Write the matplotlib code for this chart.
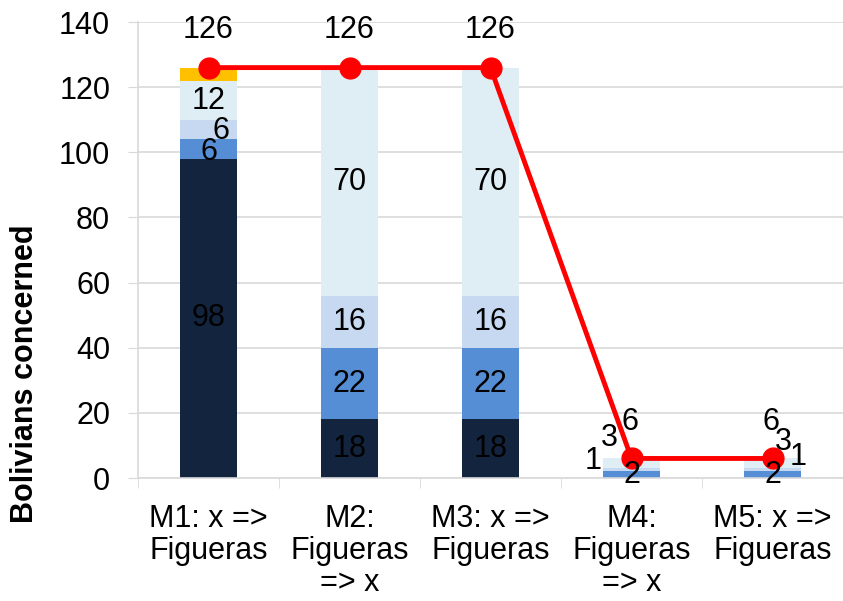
import matplotlib
matplotlib.use("Agg")
import matplotlib.pyplot as plt
import numpy as np

plt.rcParams['font.family'] = ['Liberation Sans', 'DejaVu Sans']

categories = ["M1: x =>\nFigueras", "M2:\nFigueras\n=> x", "M3: x =>\nFigueras",
              "M4:\nFigueras\n=> x", "M5: x =>\nFigueras"]
seg1 = [98, 18, 18, 0, 0]
seg2 = [6, 22, 22, 2, 2]
seg3 = [6, 16, 16, 1, 1]
seg4 = [12, 70, 70, 3, 3]
seg5 = [4, 0, 0, 0, 0]
total = [126, 126, 126, 6, 6]

colors = ["#13243f", "#558ed5", "#c6d9f1", "#dfeef5", "#ffc000"]

fig = plt.figure(figsize=(8.43, 6.01), dpi=100)
ax = fig.add_axes([138/843, 1 - 478/601, (843 - 138)/843, (478 - 22)/601])

x = np.arange(len(categories))
segs = [seg1, seg2, seg3, seg4, seg5]
bottom = np.zeros(len(categories))
for s, c in zip(segs, colors):
    ax.bar(x, s, bottom=bottom, width=0.4, color=c, zorder=2)
    bottom += np.array(s)

ax.plot(x, total, color="#ff0000", lw=3.5, marker="o", markersize=15, zorder=4)

fs = 22
# segment labels
for i in range(3):
    b = 0
    for k, s in enumerate([seg1, seg2, seg3, seg4]):
        v = s[i]
        xo = 0
        yo = b + v / 2
        if i == 0 and k == 2:
            xo = 0.09
            yo = b + v / 2 - 0.5
        if i == 0 and k == 1:
            yo = b + v / 2 - 0.8
        if i == 0 and k == 3:
            yo = b + v / 2 - 0.3
        ax.text(x[i] + xo, yo, str(v), ha="center", va="center", fontsize=fs, zorder=5)
        b += v
# small bars (M4, M5) labels placed like the reference
ax.text(x[3], 1.0, str(seg2[3]), ha="center", va="center", fontsize=fs, zorder=5)
ax.text(x[3] - 0.27, 5.2, str(seg3[3]), ha="center", va="center", fontsize=fs, zorder=5)
ax.text(x[3] - 0.16, 12.4, str(seg4[3]), ha="center", va="center", fontsize=fs, zorder=5)
ax.text(x[4], 1.0, str(seg2[4]), ha="center", va="center", fontsize=fs, zorder=5)
ax.text(x[4] + 0.18, 6.6, str(seg3[4]), ha="center", va="center", fontsize=fs, zorder=5)
ax.text(x[4] + 0.08, 10.9, str(seg4[4]), ha="center", va="center", fontsize=fs, zorder=5)
# total labels
tx = [0, 0, 0, -0.01, -0.01]
ty = [137.5, 137.5, 137.5, 17.2, 17.2]
for i, t in enumerate(total):
    ax.text(x[i] + tx[i], ty[i], str(t), ha="center", va="center", fontsize=fs, zorder=5)

ax.set_xlim(-0.5, 4.5)
ax.set_ylim(0, 140)
ax.set_yticks(np.arange(0, 141, 20))
ax.tick_params(axis="y", labelsize=fs, length=7, color="#d9d9d9", direction="out", pad=13)
ax.yaxis.grid(True, color="#d9d9d9", lw=1.2, zorder=0)
ax.set_axisbelow(True)

ax.set_xticks(x)
ax.set_xticklabels(categories, fontsize=fs, linespacing=1.07)
ax.tick_params(axis="x", length=0, pad=19)
ax.set_xticks(np.arange(-0.5, 4.6, 1), minor=True)
ax.tick_params(axis="x", which="minor", length=7, color="#d9d9d9")

for sp in ["top", "right"]:
    ax.spines[sp].set_visible(False)
for sp in ["left", "bottom"]:
    ax.spines[sp].set_color("#d9d9d9")
    ax.spines[sp].set_linewidth(1.2)

fig.text(25/843, 1 - 374/601, "Bolivians concerned", rotation=90, ha="center", va="center",
         fontsize=fs, fontweight="bold")

fig.savefig("out.png", dpi=100)
